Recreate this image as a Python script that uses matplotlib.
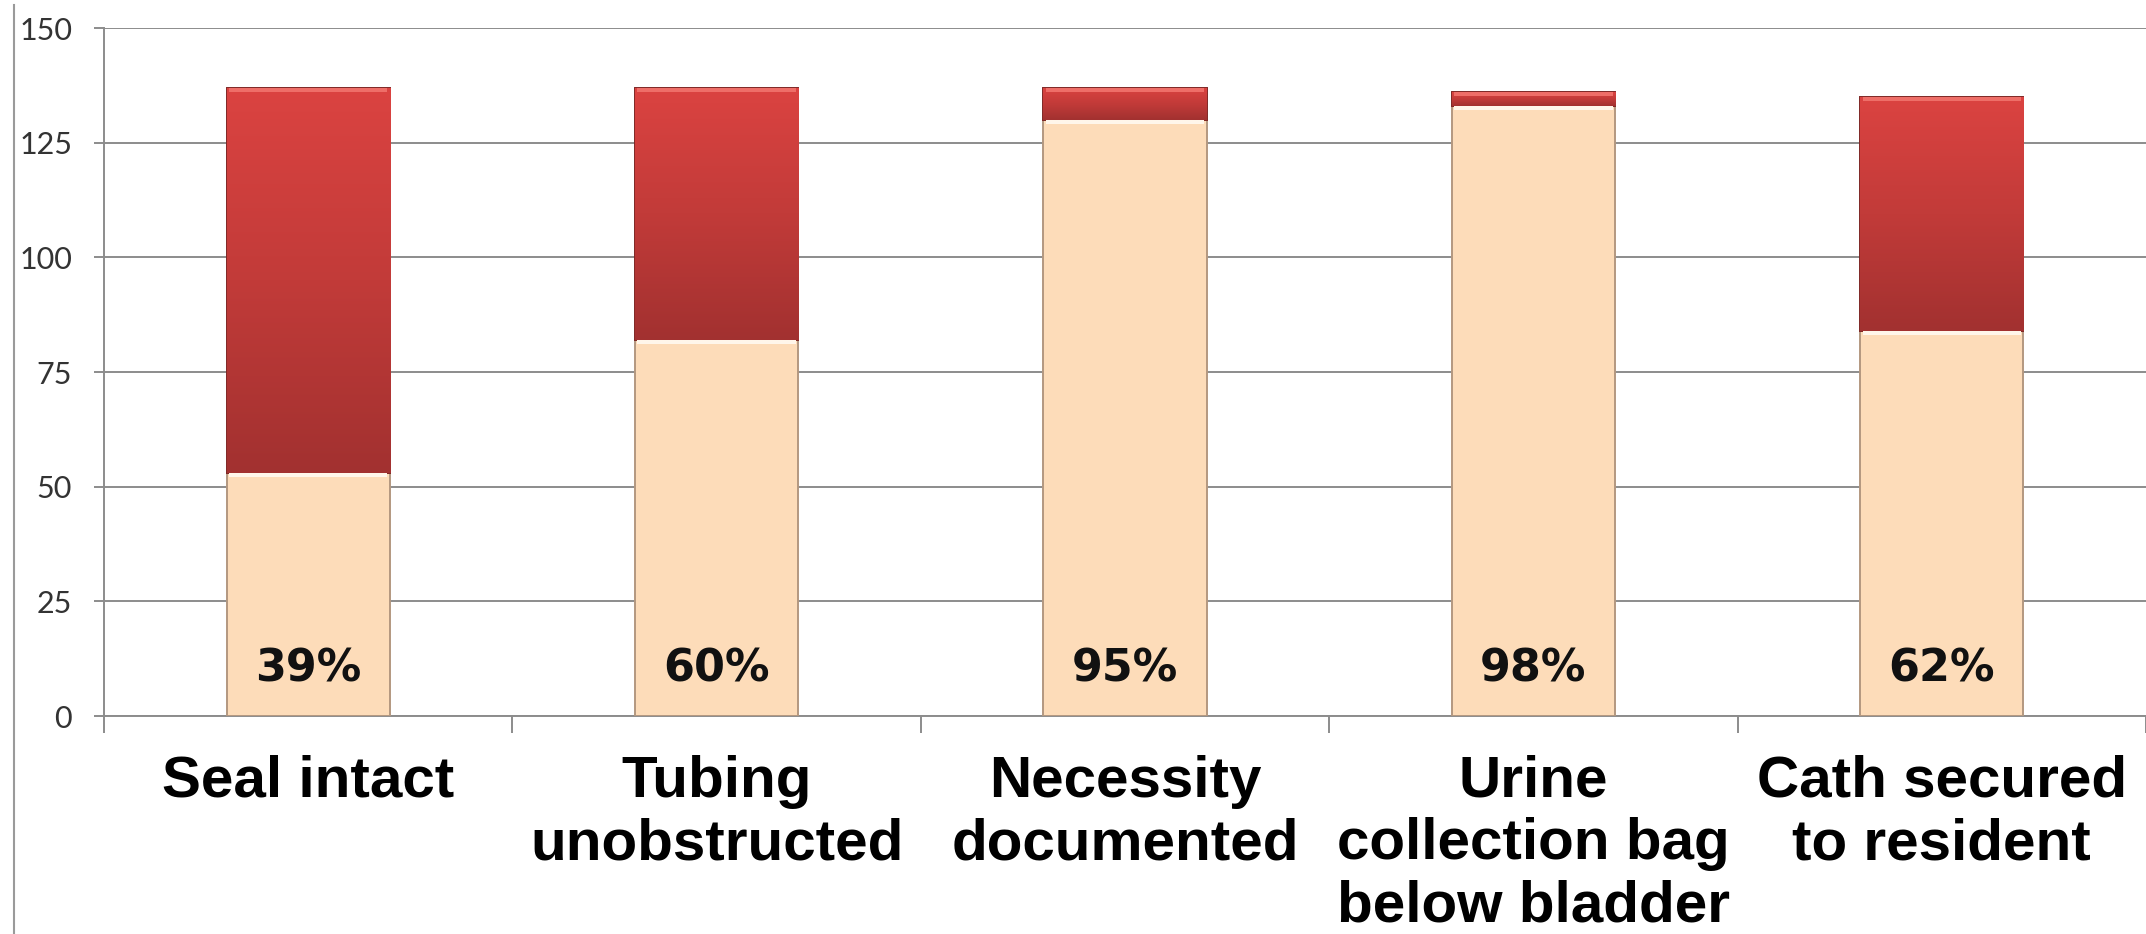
import numpy as np
import matplotlib.pyplot as plt
from matplotlib.colors import LinearSegmentedColormap
from matplotlib.lines import Line2D

categories = ['Seal intact', 'Tubing\nunobstructed', 'Necessity\ndocumented',
              'Urine\ncollection bag\nbelow bladder', 'Cath secured\nto resident']
passed = [53, 82, 130, 133, 84]
failed = [84, 55, 7, 3, 51]
pct_labels = ['39%', '60%', '95%', '98%', '62%']
yticks = [0, 25, 50, 75, 100, 125, 150]

fig = plt.figure(figsize=(21.46, 9.34), dpi=100)
ax = fig.add_axes([0.0485, 0.2334, 0.9515, 0.7366])

x = np.arange(len(categories))
w = 0.4
grid_c = '#8c8c8c'

low = ax.bar(x, passed, w, color='#fddcb9', edgecolor='#b39880', linewidth=1.4, zorder=3)
high = ax.bar(x, failed, w, bottom=passed, color='#c83a38', edgecolor='#7e2624',
              linewidth=1.4, zorder=3)

# vertical gradient on the red segments
red_cmap = LinearSegmentedColormap.from_list('redgrad', ['#a23130', '#c23b39', '#db4341'])
grad = np.linspace(0, 1, 256).reshape(-1, 1)
for b in high:
    x0, y0 = b.get_x(), b.get_y()
    im = ax.imshow(grad, cmap=red_cmap, aspect='auto', origin='lower', zorder=3.2,
                   extent=(x0, x0 + b.get_width(), y0, y0 + b.get_height()))
    im.set_clip_path(b)

# bevel highlights
tops = np.array(passed) + np.array(failed)
ax.bar(x, 0.9, w * 0.97, bottom=tops - 0.9, color='#ee6e68', linewidth=0, zorder=3.4)
ax.bar(x, 0.9, w * 0.97, bottom=np.array(passed) - 0.9, color='#fff6ea', linewidth=0, zorder=3.4)

for xi, lbl in zip(x, pct_labels):
    ax.text(xi, 10.3, lbl, ha='center', va='center', fontsize=32, fontweight='bold',
            family='DejaVu Sans', color='#111111', zorder=5)

ax.set_xlim(-0.5, len(categories) - 0.5)
ax.set_ylim(0, 150)
ax.set_yticks(yticks)
ax.yaxis.grid(True, color=grid_c, linewidth=1.4)
ax.set_axisbelow(True)

ax.set_xticks(x)
ax.set_xticklabels(categories, fontsize=42, fontweight='bold', family='Liberation Sans')
for t in ax.get_xticklabels():
    t.set_linespacing(1.2)
ax.set_xticks(np.arange(-0.5, len(categories)), minor=True)
ax.tick_params(axis='x', which='major', length=0, pad=28)
ax.tick_params(axis='x', which='minor', length=12, width=1.4, color=grid_c, direction='out')
ax.tick_params(axis='y', length=7, width=1.4, color=grid_c, pad=16, labelsize=22,
               labelcolor='#333333')
for t in ax.get_yticklabels():
    t.set_family('Lato')

for s in ['top', 'right']:
    ax.spines[s].set_visible(False)
ax.spines['left'].set_color(grid_c)
ax.spines['left'].set_linewidth(1.4)
ax.spines['bottom'].set_color(grid_c)
ax.spines['bottom'].set_linewidth(1.4)

# outer chart-area border on the left
fig.add_artist(Line2D([14 / 2146, 14 / 2146], [0, 0.995], color='#9a9a9a', linewidth=1.5))

fig.savefig('out.png', dpi=100)
